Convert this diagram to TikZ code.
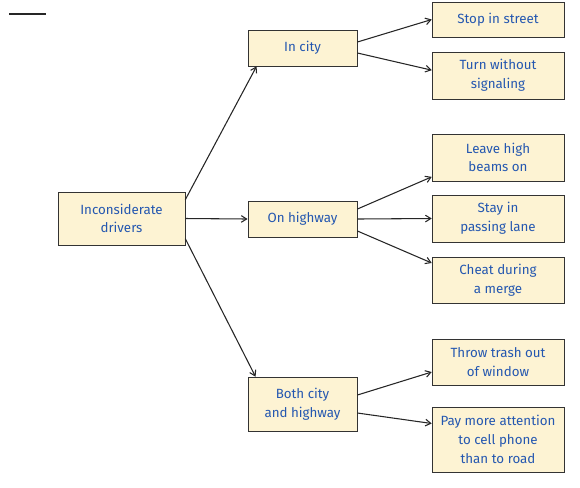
\documentclass[tikz,border=0pt]{standalone}
\usepackage{fontspec}
\setmainfont{Fira Sans}
\usetikzlibrary{arrows.meta}
\definecolor{boxfill}{HTML}{FDF3D3}
\definecolor{txtblue}{HTML}{2457B0}

\begin{document}
\begin{tikzpicture}[x=0.75pt, y=-0.75pt,
  box/.style={draw=black!80, fill=boxfill, text=txtblue, align=center, inner sep=0pt, font=\fontsize{10}{14}\selectfont},
  leftbox/.style={box, minimum width=95.25pt},
  midbox/.style={box, minimum width=82pt},
  rightbox/.style={box, minimum width=99pt},
  link/.style={draw=black!85, line width=0.8pt, -{Straight Barb[length=4pt, width=5pt]}}
]
\useasboundingbox (0,0) rectangle (580,487);
\draw[line width=0.9pt, black!85] (9,14) -- (46,14);

% first level
\node[leftbox, minimum height=39.75pt] (idr) at (121.5,218.5) {Inconsiderate\\drivers};

% second level
\node[midbox, minimum height=27pt] (city) at (302.5,48) {In city};
\node[midbox, minimum height=27pt] (hwy) at (302.5,219) {On highway};
\node[midbox, minimum height=40.5pt] (both) at (302.5,404) {Both city\\and highway};

% third level
\node[rightbox, minimum height=26.25pt] (stop) at (498,19.5) {Stop in street};
\node[rightbox, minimum height=35.25pt] (turn) at (498,75.5) {Turn without\\signaling};
\node[rightbox, minimum height=35.25pt] (beams) at (498,157.5) {Leave high\\beams on};
\node[rightbox, minimum height=35.25pt] (lane) at (498,218.5) {Stay in\\passing lane};
\node[rightbox, minimum height=34.5pt] (merge) at (498,280) {Cheat during\\a merge};
\node[rightbox, minimum height=34.5pt] (trash) at (498,362) {Throw trash out\\of window};
\node[rightbox, minimum height=48.75pt] (phone) at (498,439.5) {Pay more attention\\to cell phone\\than to road};

% connectors
\draw[link] ([yshift=-6pt]idr.north east) -- ([xshift=6.75pt]city.south west);
\draw[link] (idr.east) -- (hwy.west);
\draw[link] ([yshift=5pt]idr.south east) -- ([xshift=6pt]both.north west);

\draw[link] ([yshift=4.5pt]city.east) -- (stop.west);
\draw[link] ([yshift=-3.75pt]city.east) -- ([yshift=4pt]turn.west);

\draw[link] ([yshift=7.5pt]hwy.east) -- ([yshift=-14.5pt]beams.west);
\draw[link] (hwy.east) -- (lane.west);
\draw[link] ([yshift=-9pt]hwy.east) -- ([yshift=12.75pt]merge.west);

\draw[link] ([yshift=6.75pt]both.east) -- ([yshift=-7.5pt]trash.west);
\draw[link] ([yshift=-6.75pt]both.east) -- ([yshift=12pt]phone.west);
\end{tikzpicture}
\end{document}
